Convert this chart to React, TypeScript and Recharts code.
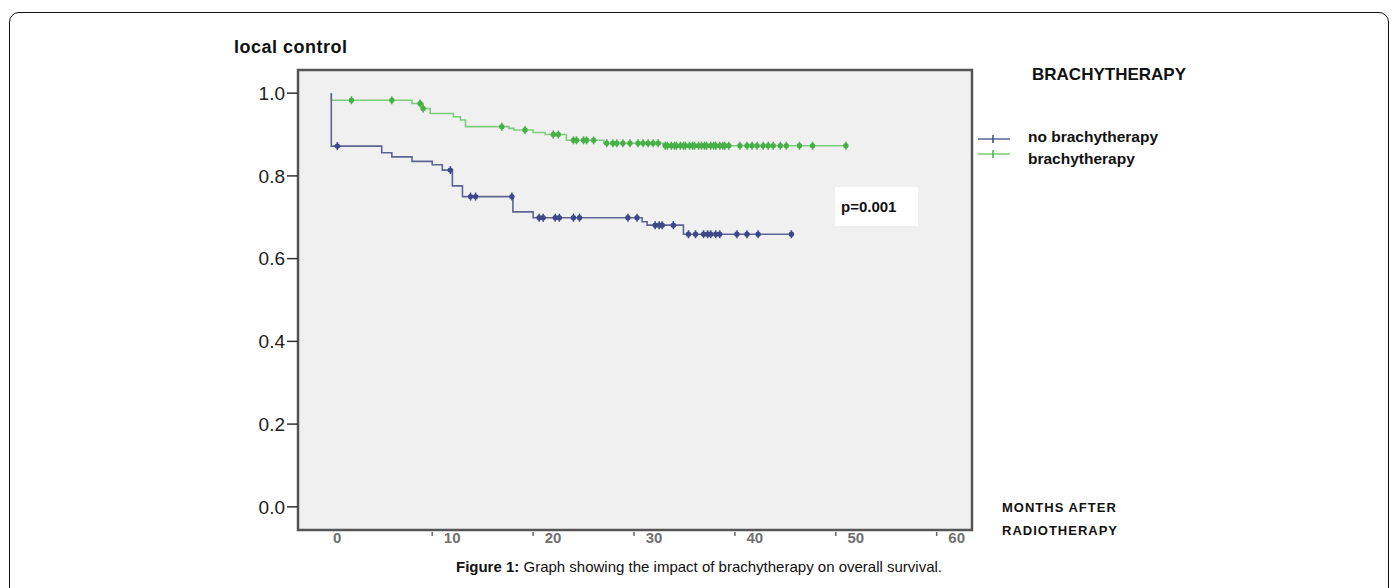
import { ComposedChart, Line, Scatter, XAxis, YAxis, CartesianGrid, ReferenceArea } from "recharts";

// Kaplan-Meier steps (months, proportion)
const noBrachyTimes = [0, 0, 5.0, 6.0, 8.0, 10.0, 11.0, 12.0, 13.0, 18.0, 20.0, 30.8, 31.3, 34.9, 45.6];
const noBrachySurv = [1.0, 0.872, 0.856, 0.846, 0.835, 0.827, 0.814, 0.776, 0.75, 0.713, 0.699, 0.689, 0.681, 0.659, 0.659];
const noBrachyCensored = [
  0.6, 11.8, 13.8, 14.3, 17.9, 20.6, 21.0, 22.2, 22.6, 24.0, 24.6, 29.4, 30.3, 32.1, 32.5, 32.8, 33.9,
  35.4, 36.1, 36.9, 37.3, 37.6, 38.1, 38.5, 40.2, 41.2, 42.3, 45.6,
];

const brachyTimes = [0, 0, 8.0, 9.1, 9.8, 12.1, 12.8, 13.3, 17.6, 18.1, 20.0, 21.2, 23.3, 27.0, 32.9, 51.0];
const brachySurv = [1.0, 0.983, 0.975, 0.963, 0.951, 0.943, 0.935, 0.919, 0.915, 0.911, 0.905, 0.9, 0.886, 0.879, 0.873, 0.873];
const brachyCensored = [
  2.0, 6.0, 8.8, 9.1, 16.9, 19.2, 22.0, 22.5, 24.0, 24.3, 25.0, 25.3, 26.0, 27.3, 27.9, 28.3, 28.9, 29.6,
  30.4, 30.9, 31.4, 31.9, 32.4, 33.1, 33.3, 33.7, 34.0, 34.2, 34.6, 34.9, 35.1, 35.5, 35.8, 36.0, 36.4,
  36.7, 37.0, 37.2, 37.6, 37.9, 38.1, 38.5, 38.8, 39.0, 39.4, 40.5, 41.2, 41.7, 42.2, 42.8, 43.3, 43.8,
  44.5, 45.1, 46.4, 47.7, 51.0,
];

const xTicks = [0, 10, 20, 30, 40, 50, 60];
const yTicks = [0, 0.2, 0.4, 0.6, 0.8, 1.0];

const X_DOMAIN: [number, number] = [-3.3, 63.5];
const Y_DOMAIN: [number, number] = [-0.056, 1.056];

const BLUE_LINE = "#5d6494";
const BLUE_MARK = "#3d4889";
const GREEN_LINE = "#7ccd7c";
const GREEN_MARK = "#46b046";
const FONT = "'Liberation Sans', Arial, sans-serif";

const toSteps = (times: number[], surv: number[]) => times.map((t, i) => ({ t, s: surv[i] }));

// survival value in effect at time t (last step at or before t)
const survAt = (times: number[], surv: number[], t: number) => {
  let s = surv[0];
  times.forEach((tt, i) => {
    if (tt <= t) s = surv[i];
  });
  return s;
};

const toCensor = (cens: number[], times: number[], surv: number[]) =>
  cens.map((t) => ({ t, s: survAt(times, surv, t) }));

const noBrachyData = toSteps(noBrachyTimes, noBrachySurv);
const brachyData = toSteps(brachyTimes, brachySurv);
const noBrachyCens = toCensor(noBrachyCensored, noBrachyTimes, noBrachySurv);
const brachyCens = toCensor(brachyCensored, brachyTimes, brachySurv);

const censorShape = (color: string) => (p: any) => (
  <g>
    <line x1={p.cx} y1={p.cy - 4} x2={p.cx} y2={p.cy + 4} stroke={color} strokeWidth={1.5} />
    <circle cx={p.cx} cy={p.cy} r={2.7} fill={color} />
  </g>
);

const XTick = (props: any) => {
  const { x, y, payload } = props;
  const v = payload.value;
  return (
    <g>
      {v !== 0 && <line x1={x} y1={y + 2} x2={x} y2={y + 6} stroke="#666" strokeWidth={1.5} />}
      <text x={x + (v === 0 ? 6 : 20)} y={y + 13} textAnchor="middle" fontSize={15} fontFamily={FONT} fill="#707070" fontWeight="bold">
        {v}
      </text>
    </g>
  );
};

const legendItems = [
  { label: "no brachytherapy", color: BLUE_LINE, mark: BLUE_MARK },
  { label: "brachytherapy", color: GREEN_LINE, mark: GREEN_MARK },
];

export default function App() {
  return (
    <div style={{ position: "absolute", left: 0, top: 0, width: 1398, height: 588, overflow: "hidden", background: "#fff", fontFamily: FONT }}>
      <div
        style={{
          position: "absolute",
          left: 9,
          top: 12,
          width: 1378,
          height: 640,
          border: "1.5px solid #111",
          borderRadius: 10,
        }}
      />

      <ComposedChart width={1398} height={588} margin={{ top: 70, right: 426, left: 238, bottom: 28 }}>
        <CartesianGrid horizontal={false} vertical={false} fill="#f0f0f0" stroke="none" />
        <XAxis
          dataKey="t"
          type="number"
          domain={X_DOMAIN}
          ticks={xTicks}
          height={30}
          axisLine={false}
          tickLine={false}
          tickSize={0}
          tickMargin={0}
          tick={<XTick />}
          allowDataOverflow
        />
        <YAxis
          dataKey="s"
          type="number"
          domain={Y_DOMAIN}
          ticks={yTicks}
          width={60}
          axisLine={false}
          tickSize={11}
          tickMargin={2}
          tickLine={{ stroke: "#333", strokeWidth: 1.5 }}
          tickFormatter={(v: number) => v.toFixed(1)}
          tick={{ fontSize: 19, fill: "#222", fontFamily: FONT }}
          allowDataOverflow
        />
        <ReferenceArea
          x1={X_DOMAIN[0]}
          x2={X_DOMAIN[1]}
          y1={Y_DOMAIN[0]}
          y2={Y_DOMAIN[1]}
          fill="none"
          stroke="#555"
          strokeWidth={2.5}
        />
        <Line data={brachyData} dataKey="s" type="stepAfter" stroke={GREEN_LINE} strokeWidth={1.6} dot={false} isAnimationActive={false} />
        <Line data={noBrachyData} dataKey="s" type="stepAfter" stroke={BLUE_LINE} strokeWidth={1.6} dot={false} isAnimationActive={false} />
        <Scatter data={brachyCens} dataKey="s" shape={censorShape(GREEN_MARK)} isAnimationActive={false} />
        <Scatter data={noBrachyCens} dataKey="s" shape={censorShape(BLUE_MARK)} isAnimationActive={false} />
      </ComposedChart>

      {/* y axis title */}
      <div style={{ position: "absolute", left: 234, top: 37, fontSize: 18, fontWeight: "bold", color: "#111", letterSpacing: 0.5 }}>
        local control
      </div>

      {/* legend */}
      <div style={{ position: "absolute", right: 1398 - 1186, top: 65, fontSize: 17, fontWeight: "bold", color: "#111" }}>
        BRACHYTHERAPY
      </div>
      <svg style={{ position: "absolute", left: 974, top: 130 }} width={40} height={32}>
        {legendItems.map((it, i) => (
          <g key={it.label}>
            <line x1={4} x2={36} y1={9 + i * 15} y2={9 + i * 15} stroke={it.color} strokeWidth={1.5} />
            <line x1={19} x2={19} y1={5 + i * 15} y2={13 + i * 15} stroke={it.mark} strokeWidth={1.5} />
          </g>
        ))}
      </svg>
      {legendItems.map((it, i) => (
        <div
          key={it.label}
          style={{ position: "absolute", left: 1028, top: 128 + i * 22, fontSize: 15.5, fontWeight: "bold", color: "#111" }}
        >
          {it.label}
        </div>
      ))}

      {/* p value */}
      <div
        style={{
          position: "absolute",
          left: 835,
          top: 187,
          width: 83,
          height: 39,
          background: "#fff",
          boxSizing: "border-box",
          paddingLeft: 6,
          lineHeight: "39px",
          fontSize: 15,
          fontWeight: "bold",
          color: "#111",
        }}
      >
        p=0.001
      </div>

      {/* x axis title */}
      <div style={{ position: "absolute", left: 1002, top: 496, fontSize: 13, fontWeight: "bold", color: "#111", letterSpacing: 1, lineHeight: "23px" }}>
        MONTHS AFTER
        <br />
        RADIOTHERAPY
      </div>

      {/* caption */}
      <div style={{ position: "absolute", left: 0, width: 1398, top: 558, textAlign: "center", fontSize: 15, color: "#111" }}>
        <b>Figure 1:</b> Graph showing the impact of brachytherapy on overall survival.
      </div>
    </div>
  );
}
